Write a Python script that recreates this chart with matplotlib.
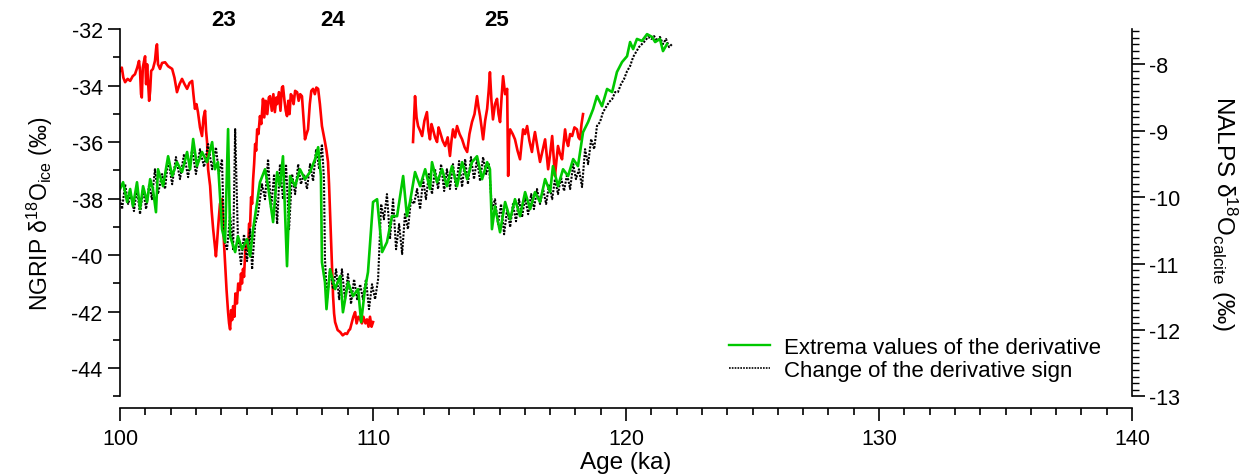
import numpy as np
import matplotlib
matplotlib.use('Agg')
import matplotlib.pyplot as plt
from matplotlib.ticker import MultipleLocator
from matplotlib.lines import Line2D

plt.rcParams['font.family'] = ['Liberation Sans', 'DejaVu Sans']
plt.rcParams['mathtext.default'] = 'regular'

# ---------------- NALPS (red, right axis) ----------------
red_age1 = [100.00, 100.07, 100.13, 100.20, 100.30, 100.40, 100.50, 100.59, 100.68, 100.75,
            100.79, 100.83, 100.86, 100.90, 100.95, 100.99, 101.03, 101.07, 101.11, 101.15,
            101.19, 101.23, 101.30, 101.38, 101.43, 101.46, 101.50, 101.58, 101.66, 101.78,
            101.90, 102.06, 102.15, 102.25, 102.35, 102.45, 102.55, 102.65, 102.75, 102.85,
            102.90, 102.96, 103.02, 103.08, 103.16, 103.24, 103.30, 103.36, 103.40, 103.44,
            103.48, 103.52, 103.56, 103.62, 103.68, 103.74, 103.79, 103.83, 103.87, 103.95,
            104.03, 104.07, 104.11, 104.15, 104.21, 104.27, 104.31, 104.35, 104.39, 104.43,
            104.47, 104.52, 104.56, 104.62, 104.67, 104.74, 104.78, 104.82, 104.86, 104.90,
            104.95, 105.02, 105.06, 105.10, 105.14, 105.18, 105.22, 105.26, 105.30, 105.34,
            105.38, 105.42, 105.47, 105.53, 105.58, 105.65, 105.70, 105.76, 105.82, 105.88,
            105.93, 106.00, 106.06, 106.12, 106.18, 106.21, 106.28, 106.34, 106.40, 106.44,
            106.50, 106.55, 106.60, 106.65, 106.70, 106.75, 106.80, 106.86, 106.92, 107.00,
            107.06, 107.12, 107.19, 107.25, 107.31, 107.37, 107.43, 107.50, 107.56, 107.63,
            107.70, 107.76, 107.83, 107.90, 107.98, 108.04, 108.10, 108.16, 108.22, 108.26,
            108.30, 108.36, 108.42, 108.46, 108.50, 108.60, 108.70, 108.80, 108.90, 108.97,
            109.05, 109.09, 109.15, 109.22, 109.29, 109.35, 109.42, 109.49, 109.56, 109.62,
            109.70, 109.76, 109.82, 109.88, 109.94, 110.00]
red_val1 = [-8.10, -8.05, -8.20, -8.27, -8.22, -8.25, -8.18, -8.15, -8.05, -7.95,
            -8.10, -8.45, -8.50, -8.05, -7.95, -7.88, -8.30, -8.00, -8.27, -8.55,
            -8.40, -8.10, -8.07, -7.95, -7.75, -7.70, -8.00, -8.07, -7.98, -7.97,
            -8.03, -8.07, -8.20, -8.42, -8.30, -8.22, -8.30, -8.37, -8.28, -8.25,
            -8.45, -8.67, -8.60, -8.72, -8.95, -9.08, -8.80, -8.70, -9.00, -9.17,
            -9.58, -9.70, -9.83, -10.20, -10.48, -10.70, -10.89, -10.70, -10.48, -10.10,
            -10.03, -10.38, -10.70, -10.98, -11.40, -11.73, -11.90, -11.99, -11.70, -11.85,
            -11.64, -11.80, -11.45, -11.60, -11.30, -11.40, -11.15, -11.30, -11.08, -11.20,
            -10.80, -10.68, -10.80, -10.40, -10.44, -10.00, -10.10, -9.73, -9.50, -9.20,
            -9.30, -8.98, -9.05, -8.78, -8.90, -8.52, -8.80, -8.55, -8.75, -8.50,
            -8.48, -8.70, -8.45, -8.72, -8.50, -8.60, -8.42, -8.70, -8.35, -8.33,
            -8.55, -8.70, -8.78, -8.55, -8.75, -8.45, -8.48, -8.60, -8.40, -8.42,
            -8.55, -8.45, -8.48, -8.80, -9.13, -9.05, -8.98, -8.60, -8.40, -8.37,
            -8.45, -8.35, -8.37, -8.60, -8.93, -9.05, -9.17, -9.30, -9.47, -9.80,
            -10.23, -10.90, -11.49, -11.75, -11.88, -12.00, -12.03, -12.08, -12.05, -12.06,
            -12.00, -11.99, -11.90, -11.80, -11.73, -11.90, -11.80, -11.84, -11.90, -11.80,
            -11.90, -11.84, -11.95, -11.80, -11.95, -11.88]

red_age2 = [111.58, 111.66, 111.72, 111.78, 111.86, 111.94, 112.03, 112.13, 112.19, 112.25,
            112.31, 112.37, 112.45, 112.53, 112.59, 112.65, 112.75, 112.85, 112.95, 113.04,
            113.10, 113.16, 113.24, 113.32, 113.42, 113.52, 113.62, 113.72, 113.81, 113.91,
            114.01, 114.11, 114.17, 114.23, 114.29, 114.35, 114.43, 114.51, 114.57, 114.62,
            114.68, 114.74, 114.82, 114.90, 114.96, 115.02, 115.08, 115.14, 115.22, 115.30,
            115.34, 115.38, 115.42, 115.52, 115.61, 115.71, 115.81, 115.87, 115.93, 116.01,
            116.09, 116.18, 116.28, 116.34, 116.40, 116.50, 116.60, 116.70, 116.80, 116.86,
            116.92, 117.00, 117.08, 117.14, 117.19, 117.25, 117.31, 117.39, 117.47, 117.53,
            117.59, 117.65, 117.71, 117.79, 117.87, 117.96, 118.06, 118.12, 118.18, 118.24,
            118.30]
red_val2 = [-9.17, -8.48, -8.80, -8.93, -9.00, -9.08, -8.85, -8.72, -9.00, -9.13,
            -8.90, -8.98, -9.10, -9.17, -8.95, -9.02, -9.15, -9.23, -9.10, -9.38,
            -9.15, -8.98, -9.10, -8.93, -9.05, -9.13, -9.25, -9.32, -9.05, -8.87,
            -8.75, -8.48, -8.65, -8.78, -8.95, -9.13, -8.85, -8.67, -8.40, -8.12,
            -8.55, -8.83, -8.60, -8.52, -8.75, -8.87, -8.50, -8.18, -8.45, -8.37,
            -9.68, -9.10, -8.98, -9.05, -9.13, -9.30, -9.43, -9.20, -8.98, -9.05,
            -8.93, -9.15, -9.32, -9.15, -9.02, -9.25, -9.47, -9.30, -9.13, -9.35,
            -9.58, -9.35, -9.08, -9.40, -9.68, -9.45, -9.23, -9.35, -9.43, -9.20,
            -8.98, -9.15, -9.23, -9.05, -9.08, -8.95, -8.98, -9.10, -9.13, -8.90,
            -8.75]

# ---------------- NGRIP, extrema values of the derivative (green, left axis) ----------------
green_age = [100.00, 100.12, 100.28, 100.40, 100.51, 100.67, 100.79, 100.91, 101.07, 101.19,
             101.30, 101.42, 101.50, 101.70, 101.90, 102.06, 102.25, 102.45, 102.65, 102.77,
             102.89, 103.04, 103.24, 103.44, 103.64, 103.75, 103.87, 104.03, 104.15, 104.27,
             104.35, 104.55, 104.66, 104.82, 105.02, 105.14, 105.26, 105.42, 105.53, 105.73,
             105.85, 106.05, 106.21, 106.32, 106.44, 106.60, 106.72, 106.92, 107.11, 107.31,
             107.51, 107.71, 107.83, 107.94, 107.98, 108.10, 108.16, 108.30, 108.50, 108.70,
             108.81, 109.01, 109.21, 109.41, 109.53, 109.68, 109.80, 110.00, 110.16, 110.36,
             110.55, 110.75, 110.95, 111.19, 111.34, 111.46, 111.66, 111.86, 112.06, 112.25,
             112.33, 112.53, 112.73, 112.92, 113.12, 113.32, 113.52, 113.72, 113.91, 114.11,
             114.31, 114.51, 114.62, 114.70, 114.82, 115.02, 115.22, 115.42, 115.61, 115.81,
             116.01, 116.21, 116.40, 116.60, 116.80, 117.00, 117.11, 117.31, 117.51, 117.71,
             117.91, 118.10, 118.30, 118.50, 118.70, 118.85, 119.05, 119.25, 119.45, 119.64,
             119.84, 120.04, 120.16, 120.28, 120.43, 120.63, 120.83, 121.03, 121.15, 121.34,
             121.46, 121.62]
green_val = [-37.66, -37.42, -38.12, -37.66, -38.27, -37.42, -38.37, -37.56, -38.12, -37.31,
             -37.66, -38.48, -36.96, -37.56, -36.50, -37.20, -36.71, -37.06, -36.35, -36.96,
             -35.89, -36.85, -36.35, -36.71, -36.00, -36.96, -36.71, -39.08, -39.54, -35.54,
             -39.33, -39.89, -39.33, -39.79, -39.43, -40.04, -39.08, -38.12, -37.42, -36.96,
             -37.56, -38.83, -37.06, -37.56, -36.50, -40.39, -37.20, -37.56, -36.96, -37.31,
             -37.06, -36.60, -36.18, -37.20, -40.25, -40.96, -41.91, -40.50, -41.20, -40.74,
             -42.02, -40.96, -41.45, -41.20, -42.37, -41.20, -40.60, -38.12, -38.02, -39.89,
             -39.54, -38.62, -38.62, -37.20, -38.62, -38.12, -37.06, -37.56, -36.96, -37.66,
             -36.71, -37.42, -36.96, -37.56, -36.85, -37.56, -36.71, -37.31, -36.71, -36.50,
             -37.31, -36.71, -36.96, -39.08, -38.27, -39.19, -38.12, -38.73, -38.02, -38.62,
             -37.77, -38.37, -37.77, -38.12, -37.31, -37.77, -36.85, -37.56, -36.96, -37.20,
             -36.60, -36.85, -35.65, -35.29, -34.83, -34.37, -34.73, -34.12, -34.23, -33.52,
             -33.17, -32.96, -32.46, -32.71, -32.35, -32.42, -32.18, -32.28, -32.46, -32.35,
             -32.78, -32.53]

# ---------------- NGRIP, change of the derivative sign (black dotted, left axis) ----------------
black_age = [100.00, 100.08, 100.20, 100.32, 100.43, 100.55, 100.67, 100.79, 100.91, 101.03,
             101.15, 101.26, 101.38, 101.50, 101.66, 101.78, 101.90, 102.06, 102.21, 102.37,
             102.53, 102.69, 102.85, 103.00, 103.16, 103.32, 103.48, 103.64, 103.79, 103.91,
             104.03, 104.11, 104.23, 104.35, 104.47, 104.55, 104.66, 104.78, 104.90, 105.02,
             105.14, 105.22, 105.34, 105.45, 105.61, 105.73, 105.85, 105.97, 106.09, 106.21,
             106.32, 106.44, 106.56, 106.68, 106.80, 106.92, 107.04, 107.15, 107.27, 107.39,
             107.51, 107.63, 107.75, 107.87, 107.98, 108.06, 108.10, 108.18, 108.30, 108.42,
             108.54, 108.66, 108.77, 108.89, 109.01, 109.13, 109.25, 109.37, 109.49, 109.60,
             109.72, 109.84, 109.96, 110.08, 110.20, 110.32, 110.43, 110.55, 110.67, 110.79,
             110.91, 111.03, 111.15, 111.26, 111.38, 111.50, 111.62, 111.74, 111.86, 111.98,
             112.09, 112.21, 112.33, 112.45, 112.57, 112.69, 112.81, 112.92, 113.04, 113.16,
             113.28, 113.40, 113.52, 113.64, 113.75, 113.87, 113.99, 114.11, 114.23, 114.35,
             114.47, 114.58, 114.70, 114.82, 114.94, 115.06, 115.18, 115.30, 115.42, 115.53,
             115.65, 115.77, 115.89, 116.01, 116.13, 116.25, 116.36, 116.48, 116.60, 116.72,
             116.84, 116.96, 117.08, 117.19, 117.31, 117.43, 117.55, 117.67, 117.79, 117.91,
             118.02, 118.14, 118.26, 118.38, 118.50, 118.62, 118.74, 118.85, 118.97, 119.09,
             119.21, 119.33, 119.45, 119.57, 119.68, 119.80, 119.92, 120.04, 120.16, 120.28,
             120.40, 120.51, 120.63, 120.75, 120.87, 120.99, 121.11, 121.23, 121.34, 121.46,
             121.58, 121.70, 121.82]
black_val = [-38.02, -38.37, -37.49, -38.19, -37.84, -38.44, -37.66, -38.55, -37.66, -38.37,
             -37.49, -38.02, -36.96, -37.84, -37.13, -37.66, -36.60, -37.49, -36.53, -37.31,
             -36.42, -37.24, -36.25, -37.13, -36.25, -36.88, -36.07, -36.96, -36.18, -37.13,
             -36.60, -39.43, -39.79, -38.55, -39.79, -35.54, -39.43, -40.32, -39.26, -40.21,
             -39.08, -40.50, -38.90, -38.55, -37.49, -38.02, -36.60, -38.37, -37.13, -38.90,
             -36.78, -38.02, -36.78, -39.08, -37.13, -37.84, -36.78, -37.49, -37.13, -37.66,
             -36.78, -37.38, -36.25, -36.96, -36.07, -37.31, -40.14, -41.56, -40.50, -41.20,
             -40.50, -41.56, -40.50, -41.56, -40.67, -41.73, -40.85, -41.56, -41.03, -41.56,
             -40.85, -41.91, -41.03, -41.56, -40.85, -38.19, -38.73, -37.84, -39.43, -38.02,
             -39.79, -38.90, -39.96, -38.55, -39.08, -38.02, -38.19, -37.66, -38.37, -37.31,
             -38.02, -37.13, -37.84, -36.96, -37.66, -36.78, -37.73, -36.96, -37.66, -36.78,
             -37.66, -36.67, -37.59, -36.60, -37.49, -36.53, -37.31, -36.60, -37.38, -36.53,
             -37.13, -36.78, -38.37, -38.02, -38.90, -38.19, -39.26, -38.37, -39.01, -38.19,
             -38.80, -38.02, -38.66, -37.95, -38.55, -37.84, -38.37, -37.66, -38.19, -37.66,
             -38.19, -37.49, -38.02, -37.31, -37.84, -37.24, -37.73, -37.13, -37.66, -36.78,
             -37.31, -36.96, -37.59, -36.25, -36.78, -35.89, -36.25, -35.43, -35.29, -34.94,
             -34.76, -34.58, -34.48, -34.23, -34.23, -33.95, -33.77, -33.49, -33.31, -32.99,
             -32.81, -32.64, -32.53, -32.42, -32.28, -32.35, -32.25, -32.42, -32.28, -32.53,
             -32.35, -32.64, -32.53]

event_labels = ['23', '24', '25']
event_ages = [104.1, 108.4, 114.9]

legend_labels = ['Extrema values of the derivative', 'Change of the derivative sign']

GREEN = '#00c800'
FS_TICK = 15.5
FS_LEG = 16
FS_LAB = 17.5

fig = plt.figure(figsize=(12.57, 4.77), dpi=100)
ax = fig.add_axes([0.0955, 0.1667, 0.8051, 0.7703])
ax2 = ax.twinx()
ax.set_zorder(ax2.get_zorder() + 1)
ax.patch.set_visible(False)

ax2.plot(red_age1, red_val1, color='red', lw=1.9)
ax2.plot(red_age2, red_val2, color='red', lw=1.9)

ax.plot(black_age, black_val, color='black', lw=1.5, ls=(0, (1, 0.7)))
ax.plot(green_age, green_val, color=GREEN, lw=1.9)

ax.set_xlim(100, 140)
ax.set_ylim(-45, -32)
ax2.set_ylim(-13, -7.47)

for s in ['top', 'right']:
    ax.spines[s].set_visible(False)
for s in ['top', 'left', 'bottom']:
    ax2.spines[s].set_visible(False)
ax.spines['bottom'].set_position(('outward', 8))
for sp in [ax.spines['left'], ax.spines['bottom'], ax2.spines['right']]:
    sp.set_linewidth(1.2)

ax.xaxis.set_major_locator(MultipleLocator(10))
ax.xaxis.set_minor_locator(MultipleLocator(1))
ax.yaxis.set_major_locator(MultipleLocator(2))
ax.yaxis.set_minor_locator(MultipleLocator(1))
ax2.yaxis.set_major_locator(MultipleLocator(1))
ax2.yaxis.set_minor_locator(MultipleLocator(0.1))

ax.tick_params(axis='both', which='major', length=9, width=1.2, labelsize=FS_TICK, direction='out')
ax.tick_params(axis='x', which='major', pad=6)
ax.tick_params(axis='both', which='minor', length=5, width=1.2, direction='out')
ax2.tick_params(axis='y', which='major', length=9, width=1.2, labelsize=FS_TICK, direction='out')
ax2.tick_params(axis='y', which='minor', length=5, width=1.0, direction='out')

ax.xaxis.set_major_formatter(plt.FuncFormatter(lambda v, p: f'{v:.0f}'))
ax.yaxis.set_major_formatter(plt.FuncFormatter(lambda v, p: f'{v:.0f}'))
ax2.yaxis.set_major_formatter(plt.FuncFormatter(lambda v, p: f'{v:.0f}'))

ax.set_xlabel('Age (ka)', fontsize=FS_LAB, labelpad=1)
ax.set_ylabel('NGRIP δ$^{18}$O$_{ice}$ (‰)', fontsize=16.5, labelpad=12)
ax2.set_ylabel('NALPS δ$^{18}$O$_{calcite}$ (‰)', fontsize=FS_LAB, rotation=270, labelpad=42)

for lab, a in zip(event_labels, event_ages):
    ax.text(a, 1.027, lab, transform=ax.get_xaxis_transform(), ha='center', va='center',
            fontsize=16, fontweight='bold')

handles = [Line2D([], [], color=GREEN, lw=1.7),
           Line2D([], [], color='black', lw=1.2, ls=(0, (1, 0.7)))]
ax.legend(handles, legend_labels, loc='upper left', bbox_to_anchor=(0.602, 0.162),
          frameon=False, fontsize=FS_LEG, handlelength=1.85, handletextpad=0.6,
          labelspacing=0.1, borderpad=0, borderaxespad=0)

fig.savefig('out.png', dpi=100)
